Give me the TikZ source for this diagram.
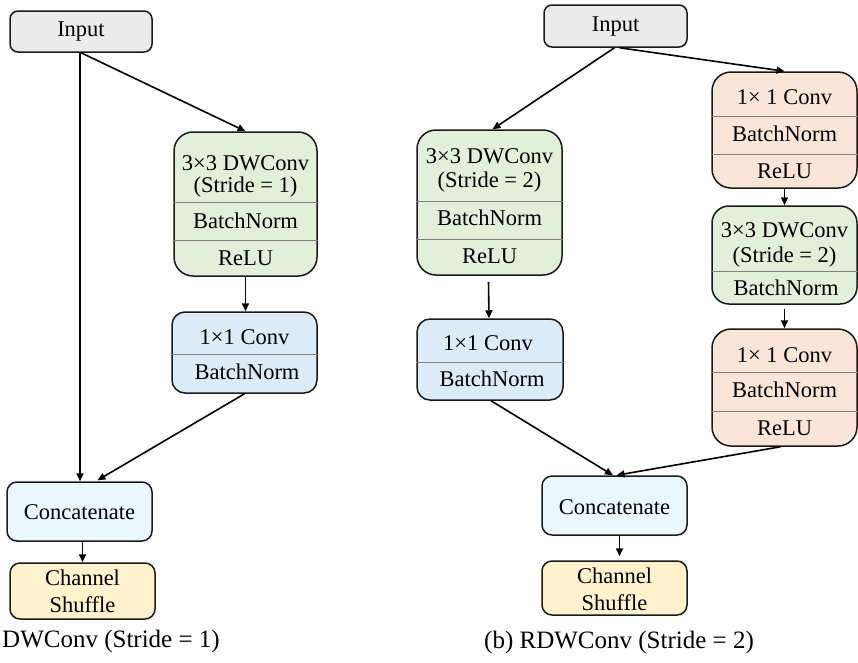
\documentclass[tikz,border=0pt]{standalone}
\usepackage{fontspec}
\setmainfont{Liberation Serif}
\newfontfamily\tmsfont{Liberation Serif}
\usetikzlibrary{arrows.meta,calc}
\definecolor{cgray}{HTML}{EBEBEB}
\definecolor{cgreen}{HTML}{E2EFDA}
\definecolor{cblue}{HTML}{DDEBF7}
\definecolor{corange}{HTML}{FBE5D6}
\definecolor{ccyan}{HTML}{EAF7FD}
\definecolor{cyellow}{HTML}{FFF2CC}
\definecolor{cline}{HTML}{1A1A1A}
\tikzset{
  box/.style={draw=cline, line width=1.5pt, inner sep=0pt},
  lbl/.style={font=\tmsfont\fontsize{22.5}{26}\selectfont, inner sep=0pt, text=black},
  captext/.style={font=\tmsfont\fontsize{25}{30}\selectfont, inner sep=0pt, text=black},
  div/.style={draw=black!50, line width=0.9pt},
  arr/.style={draw=black, line width=1.6pt, -{Triangle[length=8pt,width=7pt]}},
}
\begin{document}
\begin{tikzpicture}[x=1pt,y=-1pt]
\useasboundingbox (0,0) rectangle (858,662);
% ---------- left diagram ----------
\node[box, fill=cgray, rounded corners=8pt, minimum width=142pt, minimum height=41pt] (in1) at (81,31.5) {};
\node[lbl] (in1t) at (81,32) {Input};

\node[box, fill=cgreen, rounded corners=19pt, minimum width=143pt, minimum height=144pt] (g1) at (245.5,204) {};
\draw[div] (g1.west |- 0,202) -- (g1.east |- 0,202);
\draw[div] (g1.west |- 0,240) -- (g1.east |- 0,240);
\node[lbl] (g1a) at (245.5,163) {3×3 DWConv};
\node[lbl] (g1b) at (245.5,187) {(Stride = 1)};
\node[lbl] (g1c) at (245.5,221) {BatchNorm};
\node[lbl] (g1d) at (245.5,258) {ReLU};

\node[box, fill=cblue, rounded corners=13pt, minimum width=145pt, minimum height=81pt] (b1) at (244.5,352.5) {};
\draw[div] (b1.west |- 0,354) -- (b1.east |- 0,354);
\node[lbl] (b1a) at (244.5,337) {1×1 Conv};
\node[lbl] (b1b) at (247,372) {BatchNorm};

\node[box, fill=ccyan, rounded corners=10pt, minimum width=145pt, minimum height=59pt] (c1) at (79.5,511.5) {};
\node[lbl] (c1t) at (79.5,512) {Concatenate};

\node[box, fill=cyellow, rounded corners=10pt, minimum width=145pt, minimum height=56pt] (s1) at (82.5,591) {};
\node[lbl] (s1a) at (82.5,578) {Channel};
\node[lbl] (s1b) at (82.5,605) {Shuffle};

\node[captext, anchor=west] (cap1) at (2,641) {DWConv (Stride = 1)};

\draw[arr] ($(in1.south)+(-1,0)$) -- ($(in1.south |- c1.north)+(-1,0)$);
\draw[arr] (in1.south) -- (g1.north);
\draw[arr] (g1.south) -- (g1.south |- b1.north);
\draw[arr] (b1.south) -- ($(c1.north)+(18,-1)$);
\draw[arr] ($(c1.south)+(3,0)$) -- ($(c1.south |- s1.north)+(3,0)$);

% ---------- right diagram ----------
\node[box, fill=cgray, rounded corners=8pt, minimum width=143pt, minimum height=42pt] (in2) at (615.5,26) {};
\node[lbl] (in2t) at (615.5,27) {Input};

\node[box, fill=cgreen, rounded corners=19pt, minimum width=145pt, minimum height=145pt] (gl) at (489.5,202.5) {};
\draw[div] (gl.west |- 0,201) -- (gl.east |- 0,201);
\draw[div] (gl.west |- 0,239) -- (gl.east |- 0,239);
\node[lbl] (gla) at (489.5,156) {3×3 DWConv};
\node[lbl] (glb) at (489.5,182) {(Stride = 2)};
\node[lbl] (glc) at (489.5,218) {BatchNorm};
\node[lbl] (gld) at (489.5,256) {ReLU};

\node[box, fill=corange, rounded corners=19pt, minimum width=145pt, minimum height=116pt] (ot) at (784.5,130) {};
\draw[div] (ot.west |- 0,116) -- (ot.east |- 0,116);
\draw[div] (ot.west |- 0,154) -- (ot.east |- 0,154);
\node[lbl] (ota) at (784.5,97) {1× 1 Conv};
\node[lbl] (otb) at (784.5,134) {BatchNorm};
\node[lbl] (otc) at (784.5,171) {ReLU};

\node[box, fill=cgreen, rounded corners=17pt, minimum width=145pt, minimum height=98pt] (gr) at (784.5,255) {};
\draw[div] (gr.west |- 0,271) -- (gr.east |- 0,271);
\node[lbl] (gra) at (784.5,230) {3×3 DWConv};
\node[lbl] (grb) at (784.5,257) {(Stride = 2)};
\node[lbl] (grc) at (786,288) {BatchNorm};

\node[box, fill=cblue, rounded corners=13pt, minimum width=146pt, minimum height=81pt] (bl) at (490,359.5) {};
\draw[div] (bl.west |- 0,362) -- (bl.east |- 0,362);
\node[lbl] (bla) at (488,343) {1×1 Conv};
\node[lbl] (blb) at (492,379) {BatchNorm};

\node[box, fill=corange, rounded corners=19pt, minimum width=145pt, minimum height=117pt] (ob) at (784.5,387.5) {};
\draw[div] (ob.west |- 0,372) -- (ob.east |- 0,372);
\draw[div] (ob.west |- 0,411) -- (ob.east |- 0,411);
\node[lbl] (oba) at (784.5,355) {1× 1 Conv};
\node[lbl] (obb) at (784.5,390) {BatchNorm};
\node[lbl] (obc) at (784.5,428) {ReLU};

\node[box, fill=ccyan, rounded corners=10pt, minimum width=145pt, minimum height=59pt] (c2) at (614.5,505.5) {};
\node[lbl] (c2t) at (614.5,507) {Concatenate};

\node[box, fill=cyellow, rounded corners=10pt, minimum width=145pt, minimum height=54pt] (s2) at (614.5,588) {};
\node[lbl] (s2a) at (614.5,576) {Channel};
\node[lbl] (s2b) at (614.5,603) {Shuffle};

\node[captext] (cap2) at (619,642) {(b) RDWConv (Stride = 2)};

\draw[arr] ($(in2.south)+(-1,0)$) -- ($(gl.north)+(3,0)$);
\draw[arr] ($(in2.south)+(4,0)$) -- (ot.north);
\draw[arr] (ot.south) -- (gr.north);
\draw[arr] ($(gl.south)+(-1,6)$) -- ($(bl.north)+(-1,0)$);
\draw[arr] ($(gr.south)+(0,4)$) -- (ob.north);
\draw[arr] ($(bl.south)+(1,0)$) -- ($(c2.north)+(-1.5,0)$);
\draw[arr] ($(ob.south)+(-4,0)$) -- ($(c2.north)+(2,0)$);
\draw[arr] ($(c2.south)+(5,0)$) -- ($(s2.north)+(5,-4)$);
\end{tikzpicture}
\end{document}
